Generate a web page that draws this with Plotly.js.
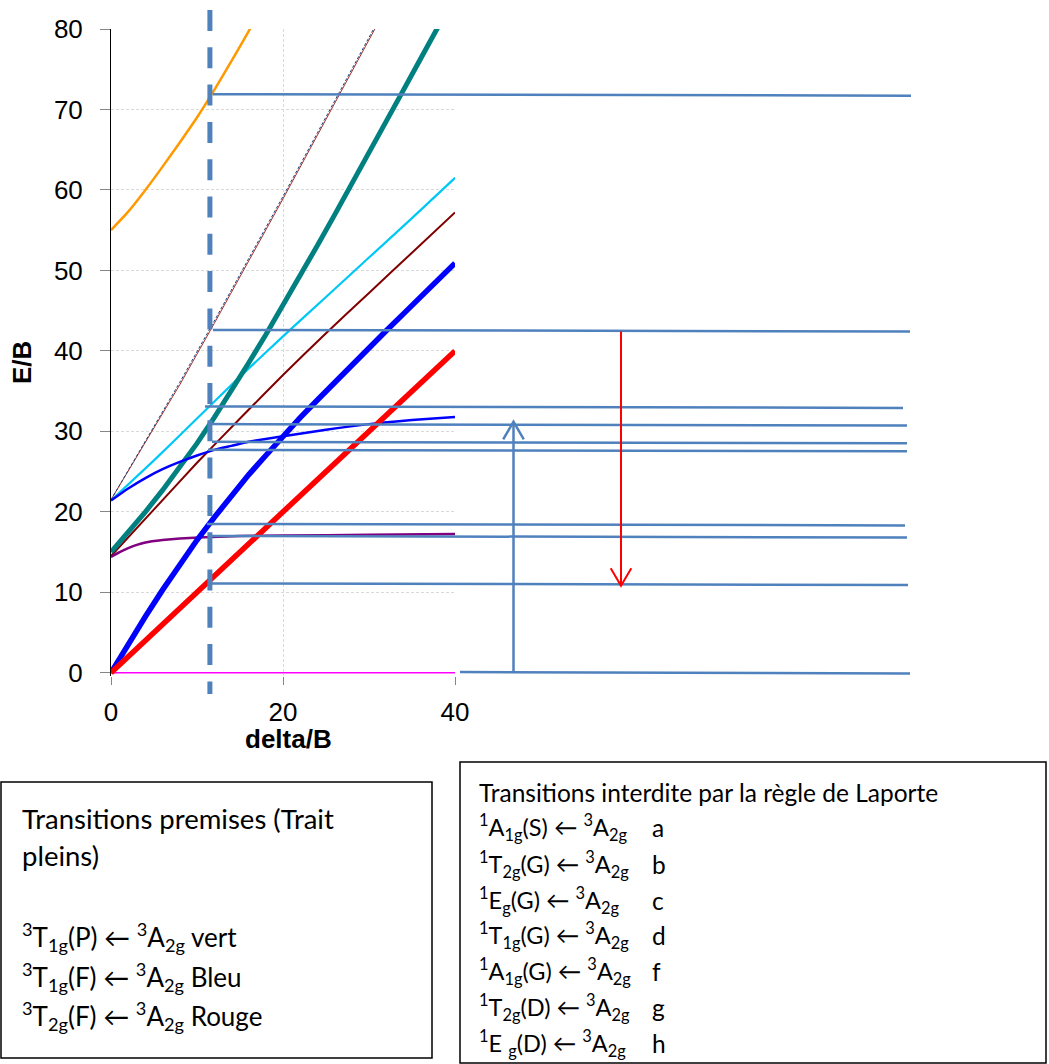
<!DOCTYPE html>
<html>
<head>
<meta charset="utf-8">
<script src="https://cdn.plot.ly/plotly-3.0.1.min.js"></script>
<style>html,body{margin:0;padding:0;background:#fff;}#chart{width:1049px;height:1064px;}</style>
</head>
<body>
<div id="chart"></div>
<script>
// ---------------- DATA ----------------
const xStep2 = [0, 2, 4, 6, 8, 10, 12, 14, 16, 18, 20, 22, 24, 26, 28, 30, 32, 34, 36, 38, 40];
const red3T2g   = [0, 2, 4, 6, 8, 10, 12, 14, 16, 18, 20, 22, 24, 26, 28, 30, 32, 34, 36, 38, 40];
const blue3T1gF = [0, 3.6, 7.0, 10.3, 13.5, 16.5, 19.3, 22.0, 24.6, 27.0, 29.4, 31.7, 33.9, 36.1, 38.3, 40.4, 42.5, 44.6, 46.7, 48.8, 50.9];
const teal3T1gP = [15.0, 17.4, 20.0, 22.7, 25.5, 28.5, 31.7, 35.0, 38.5, 42.0, 45.6, 49.4, 53.1, 56.9, 60.7, 64.6, 68.5, 72.4, 76.3, 80.2, 84.1];

const xOrange = [0, 2, 4, 6, 8, 10, 12, 14, 16, 18];
const orange1A1gS = [55.0, 57.3, 60.0, 62.9, 65.9, 69.0, 72.4, 76.0, 79.7, 83.5];

const xThin = [0, 4, 8, 12, 16, 20, 24, 28, 32];
const thinRedG  = [21.5, 28.6, 35.8, 43.4, 51.1, 58.9, 66.8, 74.7, 82.6];
const thinBlueG = [21.5, 28.8, 36.1, 43.7, 51.4, 59.2, 67.1, 75.0, 82.9];

const xStep5 = [0, 5, 10, 15, 20, 25, 30, 35, 40];
const cyanG   = [21.4, 26.4, 31.6, 36.8, 41.8, 46.7, 51.6, 56.5, 61.5];
const maroonD = [14.5, 20.3, 26.1, 31.6, 37.0, 42.2, 47.2, 52.2, 57.2];

const xBlueThin = [0, 2, 4, 6, 8, 10, 12, 14, 16, 20, 25, 30, 35, 40];
const blueThinG = [21.4, 22.9, 24.2, 25.3, 26.2, 27.0, 27.7, 28.2, 28.7, 29.4, 30.2, 30.9, 31.4, 31.8];

const xPurple = [0, 1, 2, 3, 4, 6, 8, 10, 15, 20, 30, 40];
const purpleD = [14.4, 15.0, 15.5, 15.9, 16.2, 16.5, 16.7, 16.8, 17.0, 17.05, 17.15, 17.25];

const xGround = [0, 40];
const ground3A2g = [0, 0];

// ligand field of the complex (vertical dashed line) and energy levels read there
const deltaComplex = 11.5;
const levels = [71.9, 42.6, 33.1, 30.9, 28.7, 27.7, 18.5, 17.0, 11.1, 0.1];
const arrowUp = [0, 31.2];     // permitted transition (blue arrow)
const arrowDown = [42.4, 10.8]; // red arrow

const xTicks = [0, 20, 40];
const yTicks = [0, 10, 20, 30, 40, 50, 60, 70, 80];
const xTitle = 'delta/B';
const yTitle = 'E/B';

const premisesHead = ["Transitions premises (Trait", "pleins)"];
const premisesLines = [
  "<sup>3</sup>T<sub>1g</sub>(P) \u2190 <sup>3</sup>A<sub>2g</sub> vert",
  "<sup>3</sup>T<sub>1g</sub>(F) \u2190 <sup>3</sup>A<sub>2g</sub> Bleu",
  "<sup>3</sup>T<sub>2g</sub>(F) \u2190 <sup>3</sup>A<sub>2g</sub> Rouge"
];
const interditeTitle = "Transitions interdite par la r\u00e8gle de Laporte";
const interditeTerms = [
  "<sup>1</sup>A<sub>1g</sub>(S) \u2190 <sup>3</sup>A<sub>2g</sub>",
  "<sup>1</sup>T<sub>2g</sub>(G) \u2190 <sup>3</sup>A<sub>2g</sub>",
  "<sup>1</sup>E<sub>g</sub>(G) \u2190 <sup>3</sup>A<sub>2g</sub>",
  "<sup>1</sup>T<sub>1g</sub>(G) \u2190 <sup>3</sup>A<sub>2g</sub>",
  "<sup>1</sup>A<sub>1g</sub>(G) \u2190 <sup>3</sup>A<sub>2g</sub>",
  "<sup>1</sup>T<sub>2g</sub>(D) \u2190 <sup>3</sup>A<sub>2g</sub>",
  "<sup>1</sup>E <sub>g</sub>(D) \u2190 <sup>3</sup>A<sub>2g</sub>"
];
const interditeLetters = ["a", "b", "c", "d", "f", "g", "h"];

// ---------------- LAYOUT GEOMETRY ----------------
const W = 1049, H = 1064;
const PLOT = {l: 111, r: 455, t: 29, b: 676};
const Y_RANGE = [-0.4, 80];
const px = v => (v - PLOT.l) / (PLOT.r - PLOT.l);
const py = v => (PLOT.b - v) / (PLOT.b - PLOT.t);
const yPerPx = (Y_RANGE[1] - Y_RANGE[0]) / (PLOT.b - PLOT.t);

const levelStartPx = [213, 213, 205, 210, 212, 208, 207, 208, 210, 460];
const levelEndPx   = [911, 910, 903, 907, 907, 907, 905, 907, 908, 910];
const LEVEL_COLOR = '#4f81bd';
const tickFont = {family: 'Liberation Sans, Arial, sans-serif', size: 26, color: '#000'};
const BOX_FAMILY = 'Lato, Carlito, sans-serif';
const headFont = {family: BOX_FAMILY, size: 27.5, color: '#000'};
const leftBoxFont = {family: BOX_FAMILY, size: 26, color: '#000'};
const rightTitleFont = {family: BOX_FAMILY, size: 24.5, color: '#000'};
const rightTermFont = {family: BOX_FAMILY, size: 23.5, color: '#000'};

function line(x, y, color, width, extra) {
  return Object.assign({x: x, y: y, type: 'scatter', mode: 'lines', hoverinfo: 'skip',
    line: Object.assign({color: color, width: width}, extra || {})});
}

const traces = [
  line(xGround, ground3A2g, '#ff00ff', 1.5),
  line(xOrange, orange1A1gS, '#ff9900', 2.5, {shape: 'spline', smoothing: 0.5}),
  line(xThin, thinRedG, '#a0302a', 1),
  line(xThin, thinBlueG, '#1f3f7f', 1, {dash: '3px,2px'}),
  line(xStep5, cyanG, '#00c8f5', 2.2, {shape: 'spline', smoothing: 0.4}),
  line(xStep5, maroonD, '#800000', 2, {shape: 'spline', smoothing: 0.4}),
  line(xStep2, teal3T1gP, '#008080', 5),
  line(xBlueThin, blueThinG, '#0000ff', 2.5, {shape: 'spline', smoothing: 0.6}),
  line(xPurple, purpleD, '#800080', 2.5, {shape: 'spline', smoothing: 0.6}),
  line(xStep2, blue3T1gF, '#0000ff', 5.5),
  line(xStep2, red3T2g, '#ff0000', 5.5)
];

const shapes = [];
// vertical dashed line at the complex's delta/B
shapes.push({type: 'line', xref: 'x', yref: 'paper', x0: deltaComplex, x1: deltaComplex,
  y0: py(10), y1: py(694), line: {color: LEVEL_COLOR, width: 5, dash: '21px,16.3px'}});
// energy levels
levels.forEach((v, i) => {
  shapes.push({type: 'line', xref: 'paper', yref: 'y',
    x0: px(levelStartPx[i]), x1: px(levelEndPx[i]), y0: v, y1: v - 1.5 * yPerPx,
    line: {color: LEVEL_COLOR, width: 2.5}});
});
// arrows
function arrow(xPx, from, to, color, width) {
  const dir = to > from ? 1 : -1;
  const headH = 17.7 * yPerPx, headW = 10.3;
  shapes.push({type: 'line', xref: 'paper', yref: 'y', x0: px(xPx), x1: px(xPx), y0: from, y1: to,
    line: {color: color, width: width}});
  shapes.push({type: 'path', xref: 'paper', yref: 'y',
    path: 'M' + px(xPx - headW) + ',' + (to - dir * headH) + ' L' + px(xPx) + ',' + to +
          ' L' + px(xPx + headW) + ',' + (to - dir * headH),
    line: {color: color, width: width}});
}
arrow(513.5, arrowUp[0], arrowUp[1], LEVEL_COLOR, 2.5);
arrow(621, arrowDown[0], arrowDown[1], '#ff0000', 2);
// text boxes
shapes.push({type: 'rect', xref: 'paper', yref: 'paper', x0: px(1), x1: px(432), y0: py(782), y1: py(1058),
  line: {color: '#000', width: 1.5}});
shapes.push({type: 'rect', xref: 'paper', yref: 'paper', x0: px(460), x1: px(1046), y0: py(762), y1: py(1063),
  line: {color: '#000', width: 1.5}});

const annotations = [];
// axis titles
annotations.push({xref: 'paper', yref: 'paper', x: px(288), y: py(739), xanchor: 'center', yanchor: 'middle',
  showarrow: false, text: '<b>' + xTitle + '</b>', font: tickFont});
annotations.push({xref: 'paper', yref: 'paper', x: px(22), y: py(363), xanchor: 'center', yanchor: 'middle',
  showarrow: false, textangle: -90, text: '<b>' + yTitle + '</b>', font: tickFont});
// left box
const headY = [818, 855];
premisesHead.forEach((t, i) => annotations.push({xref: 'paper', yref: 'paper', x: px(20), y: py(headY[i]),
  xanchor: 'left', yanchor: 'middle', showarrow: false, text: t, font: headFont}));
const premisesY = [937, 977, 1016];
premisesLines.forEach((t, i) => annotations.push({xref: 'paper', yref: 'paper', x: px(20), y: py(premisesY[i]),
  xanchor: 'left', yanchor: 'middle', showarrow: false, text: t, font: leftBoxFont}));
// right box
annotations.push({xref: 'paper', yref: 'paper', x: px(477), y: py(792), xanchor: 'left', yanchor: 'middle',
  showarrow: false, text: interditeTitle, font: rightTitleFont});
const interditeY = [828, 864, 900, 935, 971, 1007, 1043];
interditeTerms.forEach((t, i) => {
  annotations.push({xref: 'paper', yref: 'paper', x: px(477), y: py(interditeY[i]), xanchor: 'left', yanchor: 'middle',
    showarrow: false, text: t, font: rightTermFont});
  annotations.push({xref: 'paper', yref: 'paper', x: px(650), y: py(interditeY[i]), xanchor: 'left', yanchor: 'middle',
    showarrow: false, text: interditeLetters[i], font: rightTitleFont});
});

const layout = {
  width: W, height: H,
  margin: {l: PLOT.l, r: W - PLOT.r, t: PLOT.t, b: H - PLOT.b, pad: 0},
  paper_bgcolor: '#fff', plot_bgcolor: '#fff',
  showlegend: false,
  xaxis: {
    range: [0, 40], tickvals: xTicks, ticktext: xTicks.map(String), ticks: 'outside', ticklen: 8,
    tickcolor: '#868686', tickwidth: 1, showline: false, zeroline: false,
    showgrid: true, gridcolor: '#d9d9d9', gridwidth: 1, griddash: '3px,2px',
    tickfont: tickFont, ticklabelstandoff: 5
  },
  yaxis: {
    range: Y_RANGE, tickvals: yTicks, ticktext: yTicks.map(String), ticks: 'outside', ticklen: 10,
    tickcolor: '#868686', tickwidth: 1, showline: true, linecolor: '#000', linewidth: 1, zeroline: false,
    showgrid: true, gridcolor: '#d9d9d9', gridwidth: 1, griddash: '3px,2px',
    tickfont: tickFont, ticklabelstandoff: 12
  },
  shapes: shapes,
  annotations: annotations
};

Plotly.newPlot('chart', traces, layout, {displayModeBar: false, staticPlot: true});
</script>
</body>
</html>
